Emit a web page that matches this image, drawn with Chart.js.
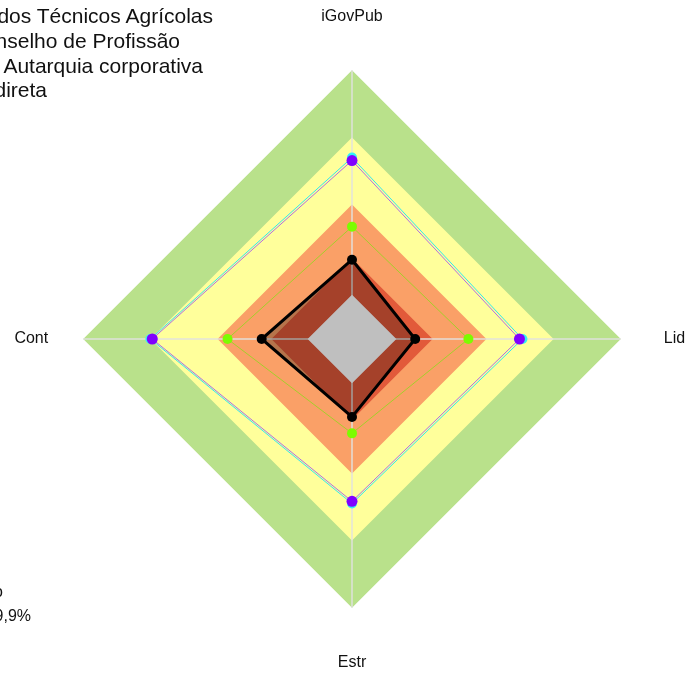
<!DOCTYPE html>
<html>
<head>
<meta charset="utf-8">
<script src="https://cdn.jsdelivr.net/npm/chart.js@4.4.0/dist/chart.umd.min.js"></script>
<style>
body { margin: 0; background: #fff; }
#wrap { position: relative; width: 688px; height: 673px; overflow: hidden; font-family: Arial, "Liberation Sans", sans-serif; color: #111; }
#wrap canvas { position: absolute; left: 0; top: 0; }
.txt { position: absolute; white-space: nowrap; text-align: right; }
.big { font-size: 21px; line-height: 21px; }
.small { font-size: 16px; line-height: 16px; }
</style>
</head>
<body>
<div id="wrap">
<canvas id="myChart" width="688" height="673"></canvas>
<div class="txt big" style="top:5px; right:475px">Conselho Federal dos Técnicos Agrícolas</div>
<div class="txt big" style="top:30px; right:508px">Conselho de Profissão</div>
<div class="txt big" style="top:55px; right:485px">Natureza: Autarquia corporativa</div>
<div class="txt big" style="top:79px; right:641px">Administração Indireta</div>
<div class="txt small" style="top:584px; right:685px">Perfil de Governança do Órgão</div>
<div class="txt small" style="top:608px; right:657px">iGG: 29,9%</div>
</div>
<script>
var labels = ['iGovPub', 'Lid', 'Estr', 'Cont'];

// faixas de fundo (de fora para dentro)
var bandLevels = [1, 0.75, 0.5, 0.3, 0.165];
var bandColors = ['#b9e18b', '#ffff9b', '#faa067', '#e25a3a', '#bfbfbf'];

// series
var orgValues = [0.295, 0.235, 0.29, 0.336];
var segmentValues = [0.418, 0.433, 0.351, 0.463];
var cyanValues = [0.675, 0.634, 0.612, 0.75];
var purpleValues = [0.664, 0.623, 0.604, 0.743];

var labelPad = [44, 43, 45, 35];

var bandOrder = [9, 8, 7, 6, 4];
var datasets = bandLevels.map(function (lv, i) {
    return {
        data: labels.map(function () { return lv; }),
        backgroundColor: bandColors[i],
        borderWidth: 0,
        pointRadius: 0,
        fill: true,
        order: bandOrder[i]
    };
});

datasets.push({
    data: orgValues,
    backgroundColor: 'rgba(0,0,0,0.27)',
    borderColor: '#000',
    borderWidth: 3,
    pointRadius: 5,
    pointBackgroundColor: '#000',
    pointBorderWidth: 0,
    fill: true,
    order: 5
});
datasets.push({
    data: segmentValues,
    borderColor: '#a5cf2a',
    borderWidth: 1,
    pointRadius: 5,
    pointBackgroundColor: '#7cfc00',
    pointBorderWidth: 0,
    fill: false,
    order: 3
});
datasets.push({
    data: cyanValues,
    borderColor: '#33e6f0',
    borderWidth: 1,
    pointRadius: 5,
    pointBackgroundColor: '#33f0f5',
    pointBorderWidth: 0,
    fill: false,
    order: 2
});
datasets.push({
    data: purpleValues,
    borderColor: '#b070e0',
    borderWidth: 1,
    pointRadius: 5.5,
    pointBackgroundColor: '#8000ff',
    pointBorderWidth: 0,
    fill: false,
    order: 1
});

// linhas dos eixos por cima das faixas
var axisLines = {
    id: 'axisLines',
    afterDatasetDraw: function (chart, args) {
        if (args.index !== 3) return;
        var scale = chart.scales.r, ctx = chart.ctx;
        ctx.save();
        ctx.strokeStyle = 'rgba(225,225,225,0.7)';
        ctx.lineWidth = 2;
        for (var i = 0; i < labels.length; i++) {
            var p = scale.getPointPosition(i, scale.drawingArea);
            ctx.beginPath();
            ctx.moveTo(scale.xCenter, scale.yCenter);
            ctx.lineTo(p.x, p.y);
            ctx.stroke();
        }
        ctx.restore();
    }
};

var ctx = document.getElementById('myChart').getContext('2d');
var chart = new Chart(ctx, {
    type: 'radar',
    data: { labels: labels, datasets: datasets },
    plugins: [axisLines],
    options: {
        responsive: false,
        animation: false,
        layout: { padding: { left: 12, right: 0, top: 8, bottom: 0 } },
        plugins: { legend: { display: false }, tooltip: { enabled: false } },
        elements: { line: { tension: 0 } },
        scales: {
            r: {
                min: 0,
                max: 1,
                ticks: { display: false },
                grid: { display: false },
                angleLines: { display: false },
                pointLabels: {
                    color: '#111',
                    font: { family: 'Arial, "Liberation Sans", sans-serif', size: 16 },
                    padding: function (c) { return labelPad[c.index]; }
                }
            }
        }
    }
});
</script>
</body>
</html>
